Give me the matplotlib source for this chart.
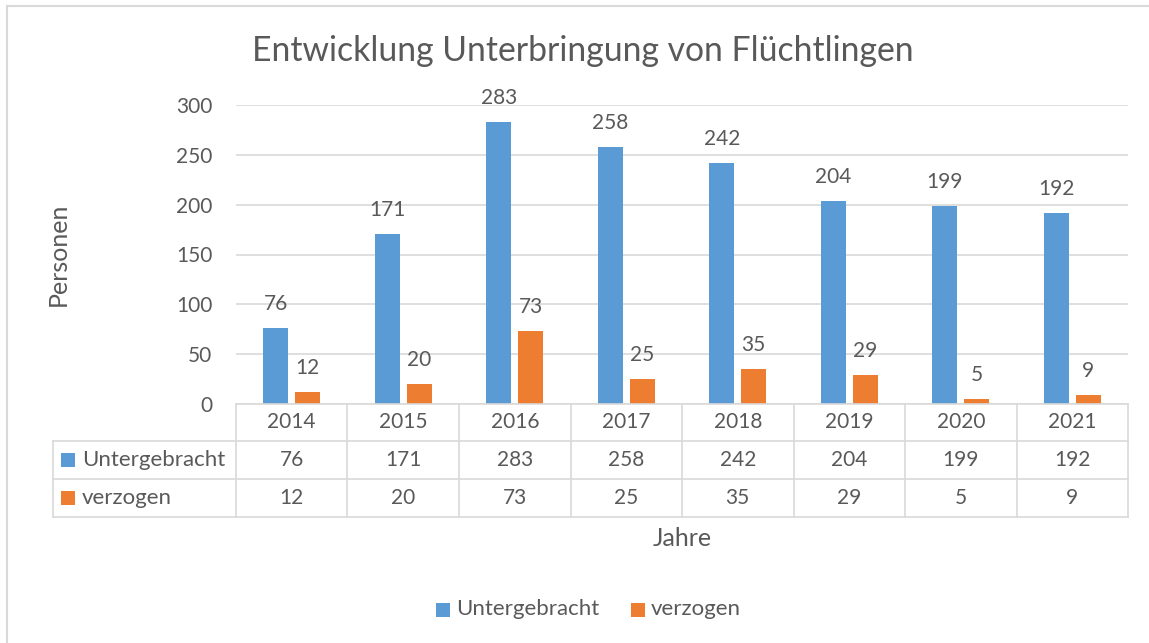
import matplotlib
matplotlib.use("Agg")
import matplotlib.pyplot as plt
import numpy as np
from matplotlib.lines import Line2D
from matplotlib.patches import Rectangle
from matplotlib.transforms import blended_transform_factory

years = ["2014", "2015", "2016", "2017", "2018", "2019", "2020", "2021"]
untergebracht = [76, 171, 283, 258, 242, 204, 199, 192]
verzogen = [12, 20, 73, 25, 35, 29, 5, 9]
series_names = ["Untergebracht", "verzogen"]
title = "Entwicklung Unterbringung von Flüchtlingen"
ylabel = "Personen"
xlabel = "Jahre"
yticks = [0, 50, 100, 150, 200, 250, 300]

W, H = 1149, 643
BLUE = "#5B9BD5"
ORANGE = "#ED7D31"
TXT = "#595959"
GRID = "#D9D9D9"
FONT = "Lato"
FS_NUM = 15
FS_WORD = 16
FS_AX = 18

plt.rcParams['font.family'] = [FONT, 'DejaVu Sans']

fig = plt.figure(figsize=(W / 100, H / 100), dpi=100)

def fx(x):
    return x / W

def fy(y):
    return 1 - y / H

# chart border (only top/left visible in the reference crop)
fig.add_artist(Line2D([fx(7), fx(W)], [fy(6), fy(6)], transform=fig.transFigure, color=GRID, lw=1.5))
fig.add_artist(Line2D([fx(7), fx(7)], [fy(6), fy(H)], transform=fig.transFigure, color=GRID, lw=1.5))

ax = fig.add_axes([fx(236), fy(404), fx(1128) - fx(236), fy(105) - fy(404)])
x = np.arange(len(years))
w = 0.225
off = 0.143
b1 = ax.bar(x - off, untergebracht, w, color=BLUE, zorder=3)
b2 = ax.bar(x + off, verzogen, w, color=ORANGE, zorder=3)
ax.set_xlim(-0.5, len(years) - 0.5)
ax.set_ylim(0, 300)
ax.set_yticks(yticks)
ax.set_yticklabels([str(t) for t in yticks], fontsize=FS_NUM, color=TXT)
ax.tick_params(axis='y', length=0, pad=17)
ax.set_xticks([])
ax.grid(axis='y', color=GRID, lw=1.2, zorder=0)
for s in ax.spines.values():
    s.set_visible(False)

for bars, vals in ((b1, untergebracht), (b2, verzogen)):
    for r, v in zip(bars, vals):
        ax.annotate(str(v), (r.get_x() + r.get_width() / 2, v), xytext=(0, 13),
                    textcoords='offset points', ha='center', va='baseline',
                    fontsize=FS_NUM, color=TXT, zorder=4)

# title and axis labels
fig.text(fx(583), fy(61), title, ha='center', va='baseline', fontsize=24.3, color=TXT)
fig.text(fx(58.5), fy(254), ylabel, ha='center', va='center', rotation=90, fontsize=FS_AX, color=TXT)
fig.text(fx(682), fy(539), xlabel, ha='center', va='center', fontsize=FS_AX, color=TXT)

# data table
tr = blended_transform_factory(ax.transData, fig.transFigure)
lw = 1.2
def hline(x0, x1, y):
    fig.add_artist(Line2D([fx(x0), fx(x1)], [fy(y), fy(y)], transform=fig.transFigure, color=GRID, lw=lw))
def vline(xx, y0, y1):
    fig.add_artist(Line2D([fx(xx), fx(xx)], [fy(y0), fy(y1)], transform=fig.transFigure, color=GRID, lw=lw))

hline(236, 1128, 404)
hline(53, 1128, 441)
hline(53, 1128, 479)
hline(53, 1128, 517)
vline(53, 441, 517)
for k in range(len(years) + 1):
    xpix = ax.transData.transform((k - 0.5, 0))[0]
    vline(xpix, 404, 517)

rows_y = [422.5, 460, 498]
for i, yr in enumerate(years):
    fig.text(i, fy(rows_y[0]), yr, transform=tr, ha='center', va='center', fontsize=FS_NUM, color=TXT)
    fig.text(i, fy(rows_y[1]), str(untergebracht[i]), transform=tr, ha='center', va='center', fontsize=FS_NUM, color=TXT)
    fig.text(i, fy(rows_y[2]), str(verzogen[i]), transform=tr, ha='center', va='center', fontsize=FS_NUM, color=TXT)

for name, col, ry in ((series_names[0], BLUE, rows_y[1]), (series_names[1], ORANGE, rows_y[2])):
    fig.add_artist(Rectangle((fx(61), fy(ry + 7)), fx(14), 14 / H, transform=fig.transFigure,
                             color=col, lw=0))
    fig.text(fx(82), fy(ry), name, ha='left', va='center', fontsize=FS_WORD, color=TXT)

# legend
for name, col, sx in ((series_names[0], BLUE, 436), (series_names[1], ORANGE, 631)):
    fig.add_artist(Rectangle((fx(sx), fy(617)), fx(14), 14 / H, transform=fig.transFigure,
                             color=col, lw=0))
    fig.text(fx(sx + 20), fy(609), name, ha='left', va='center', fontsize=FS_WORD, color=TXT)

fig.savefig("out.png", dpi=100)
